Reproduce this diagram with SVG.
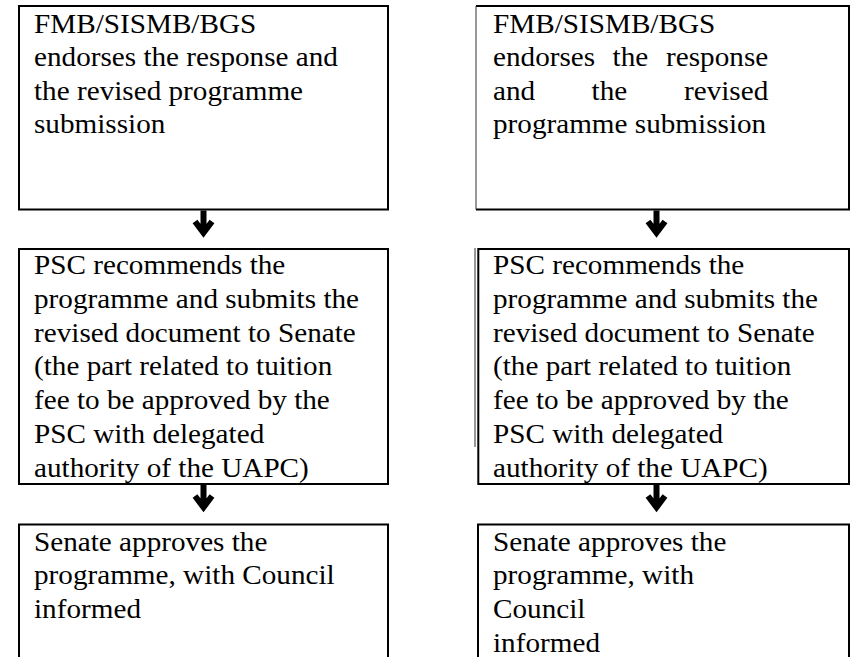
<svg xmlns="http://www.w3.org/2000/svg" width="850" height="657" viewBox="0 0 850 657">
<defs>
<style>
.bx{fill:none;stroke:#000;stroke-width:2}
.thin{fill:none;stroke:#333;stroke-width:1}
.t{font-family:"Liberation Serif","Times New Roman",serif;font-size:29.2px;fill:#000}
.ar{fill:none;stroke:#000;stroke-width:6;stroke-linejoin:miter;stroke-miterlimit:10}
</style>
<path id="arrow" class="ar" d="M0,0 V22 M-8.5,11 L0,22.3 L8.5,11"/>
</defs>
<rect width="850" height="657" fill="#fff"/>
<g id="node-l1">
<rect class="bx" x="19" y="6" width="369" height="203.5"/>
<text class="t" transform="scale(1,0.9)"><tspan x="34" y="36.67">FMB/SISMB/BGS</tspan><tspan x="34" y="73.89">endorses the response and</tspan><tspan x="34" y="111.11">the revised programme</tspan><tspan x="34" y="148.33">submission</tspan></text>
</g>
<g id="node-r1">
<path class="bx" d="M476,6 H849 V209.5 H476"/>
<path class="thin" d="M476,6 V209.5"/>
<text class="t" transform="scale(1,0.9)"><tspan x="493" y="36.67">FMB/SISMB/BGS</tspan><tspan x="493" y="73.89">endorses</tspan><tspan x="612.6" y="73.89">the</tspan><tspan x="666.1" y="73.89">response</tspan><tspan x="493" y="111.11">and</tspan><tspan x="591.6" y="111.11">the</tspan><tspan x="684" y="111.11">revised</tspan><tspan x="493" y="148.33">programme submission</tspan></text>
</g>
<g id="node-l2">
<rect class="bx" x="19" y="249" width="369" height="235"/>
<text class="t" transform="scale(1,0.9)"><tspan x="34" y="304.44">PSC recommends the</tspan><tspan x="34" y="342">programme and submits the</tspan><tspan x="34" y="379.56">revised document to Senate</tspan><tspan x="34" y="417.11">(the part related to tuition</tspan><tspan x="34" y="454.67">fee to be approved by the</tspan><tspan x="34" y="492.22">PSC with delegated</tspan><tspan x="34" y="529.78">authority of the UAPC)</tspan></text>
</g>
<g id="node-r2">
<rect class="bx" x="478.3" y="249" width="370.7" height="235"/>
<path class="thin" d="M475,248 V447"/>
<text class="t" transform="scale(1,0.9)"><tspan x="493" y="304.44">PSC recommends the</tspan><tspan x="493" y="342">programme and submits the</tspan><tspan x="493" y="379.56">revised document to Senate</tspan><tspan x="493" y="417.11">(the part related to tuition</tspan><tspan x="493" y="454.67">fee to be approved by the</tspan><tspan x="493" y="492.22">PSC with delegated</tspan><tspan x="493" y="529.78">authority of the UAPC)</tspan></text>
</g>
<g id="node-l3">
<path class="bx" d="M19,658 V524.5 H388 V658"/>
<text class="t" transform="scale(1,0.9)"><tspan x="34" y="611.89">Senate approves the</tspan><tspan x="34" y="649.44">programme, with Council</tspan><tspan x="34" y="687">informed</tspan></text>
</g>
<g id="node-r3">
<path class="bx" d="M478,658 V524.5 H849 V658"/>
<text class="t" transform="scale(1,0.9)"><tspan x="493" y="611.89">Senate approves the</tspan><tspan x="493" y="649.44">programme, with</tspan><tspan x="493" y="687">Council</tspan><tspan x="493" y="724.56">informed</tspan></text>
</g>
<g id="connectors">
<use href="#arrow" x="203.5" y="210.5"/>
<use href="#arrow" x="656.5" y="210.5"/>
<use href="#arrow" x="203.5" y="485"/>
<use href="#arrow" x="656.5" y="485"/>
</g>
</svg>
